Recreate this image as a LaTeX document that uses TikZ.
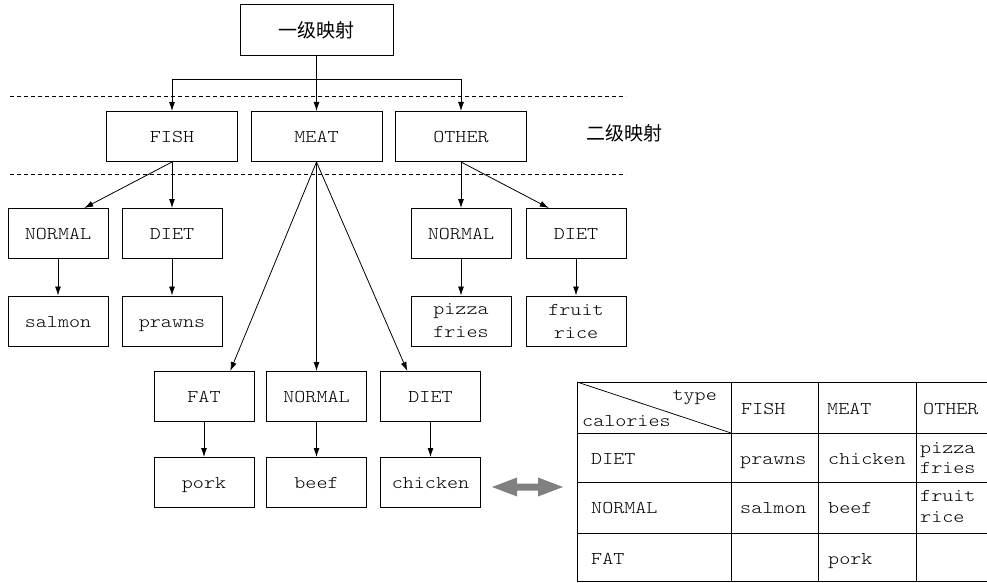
\documentclass[tikz,border=0pt]{standalone}
\usepackage{fontspec}
\newfontfamily\monof[FakeStretch=1.17]{Latin Modern Mono Light}
\newfontfamily\cjkf{Noto Sans CJK SC}
\usetikzlibrary{arrows.meta,calc}
\definecolor{arrgray}{RGB}{128,128,128}
\begin{document}
\begin{tikzpicture}[x=1pt,y=1pt,
  boxbase/.style={draw,line width=1pt,inner sep=0pt,minimum width=100pt,minimum height=50pt,font=\monof\fontsize{18}{23}\selectfont,align=center},
  box/.style={boxbase,text height=14pt,text depth=2pt},
  lvltwo/.style={box,minimum width=131pt},
  arr/.style={line width=0.8pt,-{Latex[length=9pt,width=6pt]}},
  sepline/.style={line width=0.8pt,dash pattern=on 4pt off 3pt},
  cell/.style={font=\monof\fontsize{18}{20}\selectfont,inner sep=0pt,anchor=west,align=left,text height=12pt,text depth=4pt},
  gridline/.style={line width=0.75pt}
]
\useasboundingbox (0,0) rectangle (987,-583);

% level 1 and 2
\node[boxbase,minimum width=153pt,minimum height=51pt,font=\cjkf\fontsize{19}{22}\selectfont] (top) at (316.5,-30) {一级映射};
\node[lvltwo] (fish) at (172,-136.5) {FISH};
\node[lvltwo] (meat) at (316.5,-136.5) {MEAT};
\node[lvltwo] (other) at (461,-136.5) {OTHER};
\node[font=\cjkf\fontsize{19}{22}\selectfont,inner sep=0pt] (lvltwolabel) at (624,-133) {二级映射};

% separators
\coordinate (da) at (10,-96); \coordinate (db) at (626,-96);
\coordinate (dc) at (10,-174); \coordinate (dd) at (626,-174);
\draw[sepline] (da) -- (db);
\draw[sepline] (dc) -- (dd);

% level 3
\node[box] (fnormal) at (58,-233.5) {NORMAL};
\node[box] (fdiet) at (172,-233.5) {DIET};
\node[box] (salmon) at (58,-321) {salmon};
\node[box] (prawns) at (172,-321) {prawns};
\node[box] (onormal) at (461,-233.5) {NORMAL};
\node[box] (odiet) at (576,-233.5) {DIET};
\node[boxbase] (pizza) at (461,-321) {pizza\\fries};
\node[boxbase] (fruit) at (576,-321) {fruit\\rice};

% level 4
\node[box] (fat) at (204,-396.5) {FAT};
\node[box] (mnormal) at (316.5,-396.5) {NORMAL};
\node[box] (mdiet) at (430.5,-396.5) {DIET};
\node[box] (pork) at (204,-482.5) {pork};
\node[box] (beef) at (316.5,-482.5) {beef};
\node[box] (chicken) at (430.5,-482.5) {chicken};

% connectors
\draw[arr] (top.south) -- (meat.north);
\draw[arr] (top.south) -- ++(0,-23) -| (fish.north);
\draw[arr] (top.south) -- ++(0,-23) -| (other.north);
\draw[arr] (fish.south) -- ($(fnormal.north west)!0.76!(fnormal.north east)$);
\draw[arr] (fish.south) -- (fdiet.north);
\draw[arr] (fnormal.south) -- (salmon.north);
\draw[arr] (fdiet.south) -- (prawns.north);
\draw[arr] (other.south) -- (onormal.north);
\draw[arr] (other.south) -- ($(odiet.north west)!0.23!(odiet.north east)$);
\draw[arr] (onormal.south) -- (pizza.north);
\draw[arr] (odiet.south) -- (fruit.north);
\draw[arr] (meat.south) -- ($(fat.north west)!0.76!(fat.north east)$);
\draw[arr] (meat.south) -- (mnormal.north);
\draw[arr] (meat.south) -- ($(mdiet.north west)!0.27!(mdiet.north east)$);
\draw[arr] (fat.south) -- (pork.north);
\draw[arr] (mnormal.south) -- (beef.north);
\draw[arr] (mdiet.south) -- (chicken.north);

% double arrow
\fill[arrgray] (492,-487) -- (517,-477.5) -- (517,-483.5) -- (538,-483.5) -- (538,-477.5)
  -- (563,-487) -- (538,-496.5) -- (538,-490.5) -- (517,-490.5) -- (517,-496.5) -- cycle;

% table
\foreach \yy in {382,433,482,533,581} \draw[gridline] (577,-\yy) -- (987,-\yy);
\foreach \xx in {577,731,818,916} \draw[gridline] (\xx,-382) -- (\xx,-581);
\draw[gridline] (577,-382) -- (731,-433);
\node[cell,anchor=east] (ttype) at (717,-396) {type};
\node[cell] (tcal) at (582,-422) {calories};
\node[cell] (tfish) at (741,-410) {FISH};
\node[cell] (tmeat) at (827,-410) {MEAT};
\node[cell] (tother) at (923,-410) {OTHER};
\node[cell] (rdiet) at (591,-460) {DIET};
\node[cell] (cprawns) at (740,-460) {prawns};
\node[cell] (cchicken) at (828,-460) {chicken};
\node[cell] (cpizza) at (920,-449) {pizza};
\node[cell] (cfries) at (920,-469) {fries};
\node[cell] (rnormal) at (591,-509) {NORMAL};
\node[cell] (csalmon) at (740,-509) {salmon};
\node[cell] (cbeef) at (828,-509) {beef};
\node[cell] (cfruit) at (920,-497) {fruit};
\node[cell] (crice) at (920,-518) {rice};
\node[cell] (rfat) at (591,-560) {FAT};
\node[cell] (cpork) at (828,-560) {pork};
\end{tikzpicture}
\end{document}
